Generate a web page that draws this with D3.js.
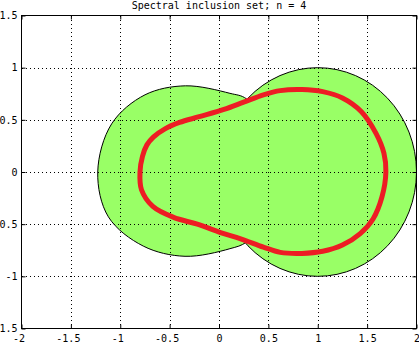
<!DOCTYPE html>
<html>
<head>
<meta charset="utf-8">
<script src="https://cdn.jsdelivr.net/npm/d3@7"></script>
<style>
  body { margin: 0; background: #fff; }
  text { font-family: "DejaVu Sans Mono", "Liberation Mono", monospace; font-size: 10px; fill: #000; }
</style>
</head>
<body>
<div id="chart"></div>
<script>
const xTicks = [-2, -1.5, -1, -0.5, 0, 0.5, 1, 1.5, 2];
const yTicks = [-1.5, -1, -0.5, 0, 0.5, 1, 1.5];
const titleText = "Spectral inclusion set; n = 4";

// right disc: centre and radius
const discCentre = [1, 0];
const discRadius = 1;

// left lobe boundary (the last few points sit inside the disc and close the shape)
const leftLobe = [
  [0.28, 0.70], [0.111, 0.754], [-0.34, 0.826], [-0.749, 0.74], [-1.087, 0.462],
  [-1.228, 0], [-1.12, -0.43], [-0.767, -0.71], [-0.344, -0.808], [0.111, -0.735],
  [0.28, -0.67], [0.55, -0.35], [0.60, 0], [0.55, 0.35]
];

// red closed curve
const redCurve = [
  [1.69, 0], [1.67, 0.18], [1.59, 0.37], [1.44, 0.58], [1.25, 0.71], [1.05, 0.77],
  [0.84, 0.79], [0.62, 0.78], [0.45, 0.74], [0.25, 0.67], [0.05, 0.60], [-0.20, 0.53],
  [-0.40, 0.475], [-0.547, 0.414], [-0.665, 0.335], [-0.73, 0.26], [-0.775, 0.15], [-0.80, 0],
  [-0.785, -0.17], [-0.67, -0.33], [-0.46, -0.435], [-0.22, -0.50], [0.015, -0.58],
  [0.22, -0.64], [0.45, -0.72], [0.62, -0.77], [0.84, -0.78], [1.05, -0.76],
  [1.25, -0.70], [1.43, -0.59], [1.56, -0.45], [1.65, -0.24]
];

const W = 419, H = 344;
const x = d3.scaleLinear().domain([-2, 2]).range([21.5, 416.5]);
const y = d3.scaleLinear().domain([-1.5, 1.5]).range([328.5, 15.5]);

const svg = d3.select("#chart").append("svg")
  .attr("width", W)
  .attr("height", H);

svg.append("rect").attr("width", W).attr("height", H).attr("fill", "#fff");

const closedLine = d3.line()
  .x(d => x(d[0]))
  .y(d => y(d[1]))
  .curve(d3.curveCatmullRomClosed);

const rx = x(discCentre[0] + discRadius) - x(discCentre[0]);
const ry = y(discCentre[1]) - y(discCentre[1] + discRadius);

// masks so each outline only shows outside the other shape
const defs = svg.append("defs");
const mLeft = defs.append("mask").attr("id", "outsideLeft")
  .attr("maskUnits", "userSpaceOnUse").attr("x", 0).attr("y", 0).attr("width", W).attr("height", H);
mLeft.append("rect").attr("width", W).attr("height", H).attr("fill", "#fff");
mLeft.append("path").attr("d", closedLine(leftLobe)).attr("fill", "#000");

const mRight = defs.append("mask").attr("id", "outsideRight")
  .attr("maskUnits", "userSpaceOnUse").attr("x", 0).attr("y", 0).attr("width", W).attr("height", H);
mRight.append("rect").attr("width", W).attr("height", H).attr("fill", "#fff");
mRight.append("ellipse")
  .attr("cx", x(discCentre[0])).attr("cy", y(discCentre[1]))
  .attr("rx", rx).attr("ry", ry).attr("fill", "#000");

const green = "#99ff66";

// fills
svg.append("path").attr("d", closedLine(leftLobe)).attr("fill", green);
svg.append("ellipse")
  .attr("cx", x(discCentre[0])).attr("cy", y(discCentre[1]))
  .attr("rx", rx).attr("ry", ry).attr("fill", green);

// outlines
svg.append("path").attr("d", closedLine(leftLobe))
  .attr("fill", "none").attr("stroke", "#000").attr("stroke-width", 1)
  .attr("mask", "url(#outsideRight)");
svg.append("ellipse")
  .attr("cx", x(discCentre[0])).attr("cy", y(discCentre[1]))
  .attr("rx", rx).attr("ry", ry)
  .attr("fill", "none").attr("stroke", "#000").attr("stroke-width", 1)
  .attr("mask", "url(#outsideLeft)");

// dotted grid
const grid = svg.append("g")
  .attr("stroke", "#000")
  .attr("stroke-width", 1)
  .attr("stroke-dasharray", "1,3")
  .attr("shape-rendering", "crispEdges");

grid.selectAll("line.gx")
  .data(xTicks.slice(1, -1))
  .join("line")
  .attr("class", "gx")
  .attr("x1", d => Math.round(x(d)) + 0.5).attr("x2", d => Math.round(x(d)) + 0.5)
  .attr("y1", y(1.5)).attr("y2", y(-1.5));

grid.selectAll("line.gy")
  .data(yTicks.slice(1, -1))
  .join("line")
  .attr("class", "gy")
  .attr("y1", d => Math.round(y(d)) + 0.5).attr("y2", d => Math.round(y(d)) + 0.5)
  .attr("x1", x(-2)).attr("x2", x(2));

// red curve
svg.append("path")
  .attr("d", closedLine(redCurve))
  .attr("fill", "none")
  .attr("stroke", "#ed1c24")
  .attr("stroke-width", 5)
  .attr("stroke-linejoin", "round");

// axes
const fmt = d => String(d);

svg.append("g")
  .attr("transform", `translate(0,${y(-1.5)})`)
  .call(d3.axisBottom(x).tickValues(xTicks).tickSize(-4).tickPadding(6).tickFormat(fmt))
  .call(g => g.select(".domain").remove())
  .call(g => g.selectAll("text").attr("dx", d => d < 0 ? -3 : 0));

svg.append("g")
  .attr("transform", `translate(${x(-2)},0)`)
  .call(d3.axisLeft(y).tickValues(yTicks).tickSize(-4).tickPadding(4).tickFormat(fmt))
  .call(g => g.select(".domain").remove());

svg.append("g")
  .attr("transform", `translate(0,${y(1.5)})`)
  .call(d3.axisTop(x).tickValues(xTicks).tickSize(-4).tickFormat(""))
  .call(g => g.select(".domain").remove());

svg.append("g")
  .attr("transform", `translate(${x(2)},0)`)
  .call(d3.axisRight(y).tickValues(yTicks).tickSize(-4).tickFormat(""))
  .call(g => g.select(".domain").remove());

svg.selectAll("g text").attr("font-family", null).attr("font-size", null);

// box
svg.append("rect")
  .attr("x", x(-2)).attr("y", y(1.5))
  .attr("width", x(2) - x(-2)).attr("height", y(-1.5) - y(1.5))
  .attr("fill", "none").attr("stroke", "#000").attr("stroke-width", 1);

// title
svg.append("text")
  .attr("x", (x(-2) + x(2)) / 2)
  .attr("y", 9)
  .attr("text-anchor", "middle")
  .text(titleText);
</script>
</body>
</html>
